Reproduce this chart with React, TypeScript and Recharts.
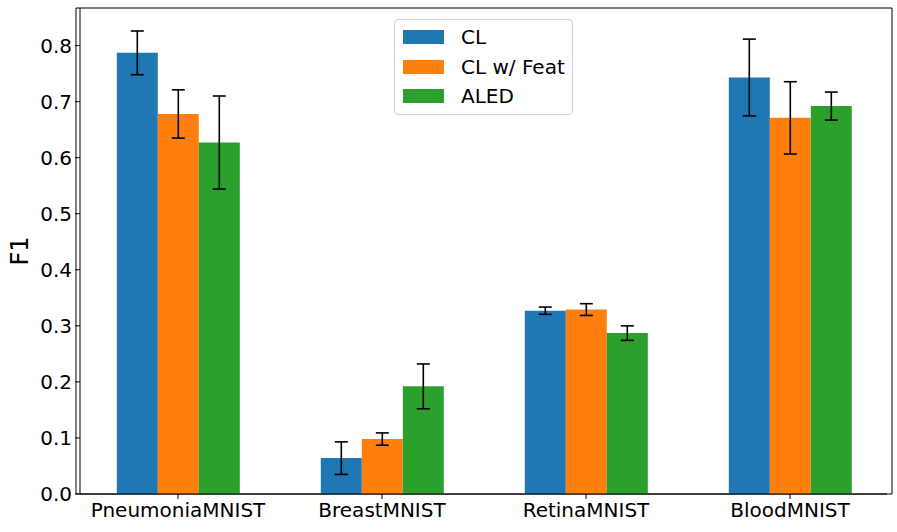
import { BarChart, Bar, XAxis, YAxis, ErrorBar, ReferenceArea } from "recharts";

const categories = ["PneumoniaMNIST", "BreastMNIST", "RetinaMNIST", "BloodMNIST"];
const clValues = [0.787, 0.064, 0.327, 0.743];
const clErrors = [0.039, 0.029, 0.0065, 0.0685];
const featValues = [0.678, 0.098, 0.329, 0.671];
const featErrors = [0.043, 0.011, 0.0105, 0.0645];
const aledValues = [0.627, 0.192, 0.287, 0.692];
const aledErrors = [0.083, 0.04, 0.013, 0.025];
const yTicks = [0, 0.1, 0.2, 0.3, 0.4, 0.5, 0.6, 0.7, 0.8];
const Y_MAX = 0.867;

const series = [
  { key: "cl", name: "CL", color: "#1f77b4" },
  { key: "feat", name: "CL w/ Feat", color: "#ff7f0e" },
  { key: "aled", name: "ALED", color: "#2ca02c" },
];

const data = categories.map((name, i) => ({
  name,
  cl: clValues[i],
  clErr: clErrors[i],
  feat: featValues[i],
  featErr: featErrors[i],
  aled: aledValues[i],
  aledErr: aledErrors[i],
}));

const FONT = "DejaVu Sans, sans-serif";

// legend drawn as an overlay so it doesn't eat chart space
function LegendBox() {
  return (
    <div
      style={{
        position: "absolute",
        left: 394,
        top: 19,
        width: 177,
        height: 94,
        border: "1px solid #d0d0d0",
        borderRadius: 4,
        background: "rgba(255,255,255,0.8)",
        fontFamily: FONT,
        fontSize: 20,
        color: "#000",
      }}
    >
      {series.map((s, i) => (
        <div
          key={s.key}
          style={{
            position: "absolute",
            left: 8,
            top: 9 + i * 29.5,
            display: "flex",
            alignItems: "center",
            height: 16,
          }}
        >
          <div style={{ width: 41, height: 14, background: s.color }} />
          <span style={{ marginLeft: 17, lineHeight: "16px", whiteSpace: "nowrap" }}>{s.name}</span>
        </div>
      ))}
    </div>
  );
}

export default function App() {
  return (
    <div style={{ position: "relative", width: 897, height: 532, background: "#fff" }}>
      <style>{"body{margin:0}"}</style>
      <BarChart
        width={897}
        height={532}
        data={data}
        margin={{ top: 8, right: 10, bottom: 0, left: 0 }}
        barCategoryGap="20%"
        barGap={0}
      >
        <XAxis
          dataKey="name"
          height={38}
          padding={{ left: -4, right: -5 }}
          stroke="#000"
          tickSize={5}
          tickMargin={4}
          tick={{ fill: "#000", fontSize: 20, fontFamily: FONT }}
        />
        <YAxis
          width={80}
          domain={[0, Y_MAX]}
          ticks={yTicks}
          tickFormatter={(v: number) => v.toFixed(1)}
          stroke="#000"
          tickSize={5}
          tickMargin={3}
          tick={{ fill: "#000", fontSize: 20, fontFamily: FONT }}
          label={({ viewBox }: any) => (
            <text
              x={28}
              y={viewBox.y + viewBox.height / 2}
              transform={`rotate(-90, 28, ${viewBox.y + viewBox.height / 2})`}
              textAnchor="middle"
              fontSize={24}
              fontFamily={FONT}
              fill="#000"
            >
              F1
            </text>
          )}
          allowDataOverflow
        />
        {series.map((s) => (
          <Bar key={s.key} dataKey={s.key} name={s.name} fill={s.color} isAnimationActive={false}>
            <ErrorBar dataKey={`${s.key}Err`} width={6.5} stroke="#000" strokeWidth={1.6} />
          </Bar>
        ))}
        <ReferenceArea y1={0} y2={Y_MAX} fill="none" stroke="#000" strokeWidth={1} ifOverflow="visible" />
      </BarChart>
      <LegendBox />
    </div>
  );
}
